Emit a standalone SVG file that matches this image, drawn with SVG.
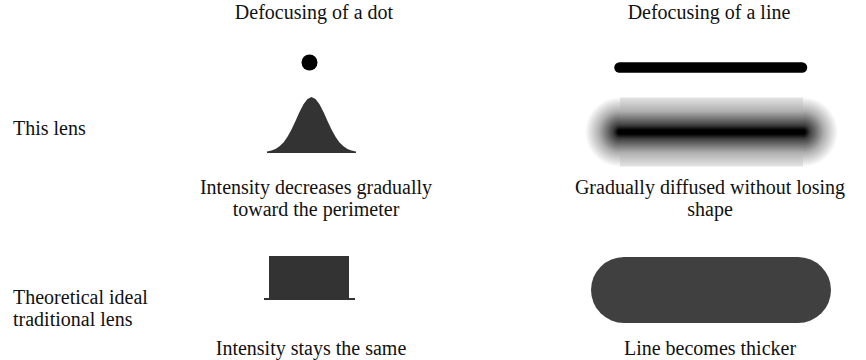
<svg xmlns="http://www.w3.org/2000/svg" width="866" height="360" viewBox="0 0 866 360">
  <style>
    text { font-family: "Liberation Serif", "Times New Roman", serif; font-size: 20px; fill: #111; }
    .c { text-anchor: middle; }
    .shape { fill: #333; }
  </style>
  <defs>
    <linearGradient id="vblur" x1="0" y1="0" x2="0" y2="1">
      <stop offset="0" stop-color="#e4e4e4"/>
      <stop offset="0.2" stop-color="#b0b0b0"/>
      <stop offset="0.4" stop-color="#404040"/>
      <stop offset="0.47" stop-color="#000"/>
      <stop offset="0.53" stop-color="#000"/>
      <stop offset="0.6" stop-color="#404040"/>
      <stop offset="0.8" stop-color="#b0b0b0"/>
      <stop offset="1" stop-color="#e4e4e4"/>
    </linearGradient>
    <radialGradient id="rblur" cx="0.5" cy="0.5" r="0.5">
      <stop offset="0" stop-color="#000"/>
      <stop offset="0.06" stop-color="#000"/>
      <stop offset="0.2" stop-color="#404040"/>
      <stop offset="0.6" stop-color="#b0b0b0"/>
      <stop offset="1" stop-color="#fff"/>
    </radialGradient>
    <clipPath id="leftcap"><rect x="580" y="90" width="40" height="90"/></clipPath>
    <clipPath id="rightcap"><rect x="803" y="90" width="40" height="90"/></clipPath>
  </defs>

  <g id="headers">
    <text class="c" x="314" y="19">Defocusing of a dot</text>
    <text class="c" x="709" y="19">Defocusing of a line</text>
  </g>

  <g id="row-labels">
    <text x="13" y="135">This lens</text>
    <text x="13" y="304">Theoretical ideal</text>
    <text x="13" y="326">traditional lens</text>
  </g>

  <g id="dot">
    <circle cx="309.5" cy="62.5" r="8" fill="#000"/>
  </g>

  <g id="line">
    <line x1="619.5" y1="67.5" x2="802" y2="67.5" stroke="#000" stroke-width="10.5" stroke-linecap="round"/>
  </g>

  <g id="gaussian">
    <path class="shape" d="M267,153 L267,151.5 L271.5,150.4 L275.5,148.9 L279.5,146.3 L283.5,142.4 L287.5,136.7 L291.5,129.4 L295.5,120.9 L299.5,112.1 L303.5,104.3 L307.5,98.9 L311.5,97 L315.5,98.9 L319.5,104.3 L323.5,112.1 L327.5,120.9 L331.5,129.4 L335.5,136.7 L339.5,142.4 L343.5,146.3 L347.5,148.9 L351.5,150.4 L356,151.5 L356,153 Z"/>
  </g>

  <g id="blurred-line">
    <circle cx="620" cy="132" r="35" fill="url(#rblur)" clip-path="url(#leftcap)"/>
    <circle cx="803" cy="132" r="35" fill="url(#rblur)" clip-path="url(#rightcap)"/>
    <rect x="620" y="97.5" width="183" height="69" fill="url(#vblur)"/>
  </g>

  <g id="captions-lens">
    <text class="c" x="316" y="194">Intensity decreases gradually</text>
    <text class="c" x="316" y="216">toward the perimeter</text>
    <text class="c" x="710" y="194">Gradually diffused without losing</text>
    <text class="c" x="710" y="216">shape</text>
  </g>

  <g id="rect-profile">
    <rect class="shape" x="269" y="256" width="80" height="43"/>
    <rect class="shape" x="264" y="298" width="91" height="2"/>
  </g>

  <g id="thick-line">
    <rect x="591" y="257" width="240" height="66" rx="33" ry="33" fill="#404040"/>
  </g>

  <g id="captions-ideal">
    <text class="c" x="311" y="355">Intensity stays the same</text>
    <text class="c" x="710" y="355">Line becomes thicker</text>
  </g>
</svg>
